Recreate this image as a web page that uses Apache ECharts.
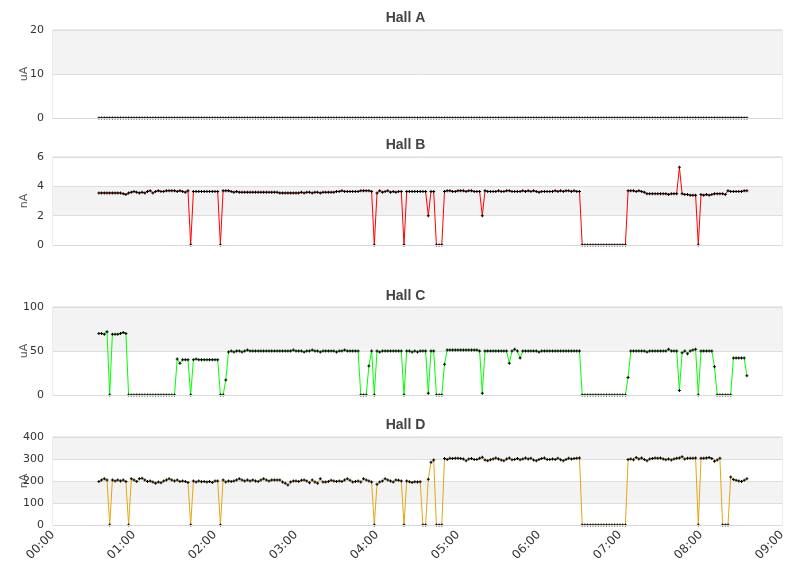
<!DOCTYPE html>
<html>
<head>
<meta charset="utf-8">
<title>Hall currents</title>
<script src="https://cdn.jsdelivr.net/npm/echarts@6/dist/echarts.min.js"></script>
<style>
  html, body { margin: 0; padding: 0; background: #fff; }
  #chart { width: 811px; height: 578px; }
</style>
</head>
<body>
<div id="chart"></div>
<script>
// sampling: first point 00:34, one point every 2 minutes
var startMinute = 34;
var stepMinute = 2;

// tick labels of the time axis (minutes from 00:00)
var hourTicks = ['00:00', '01:00', '02:00', '03:00', '04:00', '05:00', '06:00', '07:00', '08:00', '09:00'];

var hallNames = ['Hall A', 'Hall B', 'Hall C', 'Hall D'];
var hallUnits = ['uA', 'nA', 'uA', 'nA'];
var hallMax = [20, 6, 100, 400];
var hallStep = [10, 2, 50, 100];

// Hall A (uA)
var hallA = [
  0,0,0,0,0,0,0,0,0,0, 0,0,0,0,0,0,0,0,0,0,
  0,0,0,0,0,0,0,0,0,0, 0,0,0,0,0,0,0,0,0,0,
  0,0,0,0,0,0,0,0,0,0, 0,0,0,0,0,0,0,0,0,0,
  0,0,0,0,0,0,0,0,0,0, 0,0,0,0,0,0,0,0,0,0,
  0,0,0,0,0,0,0,0,0,0, 0,0,0,0,0,0,0,0,0,0,
  0,0,0,0,0,0,0,0,0,0, 0,0,0,0,0,0,0,0,0,0,
  0,0,0,0,0,0,0,0,0,0, 0,0,0,0,0,0,0,0,0,0,
  0,0,0,0,0,0,0,0,0,0, 0,0,0,0,0,0,0,0,0,0,
  0,0,0,0,0,0,0,0,0,0, 0,0,0,0,0,0,0,0,0,0,
  0,0,0,0,0,0,0,0,0,0, 0,0,0,0,0,0,0,0,0,0,
  0,0,0,0,0,0,0,0,0,0, 0,0,0,0,0,0,0,0,0,0,
  0,0,0,0,0,0,0,0,0,0, 0,0,0,0,0,0,0,0,0,0,
  0
];

// Hall B (nA)
var hallB = [
  3.55,3.55,3.55,3.55,3.55,3.55,3.55,3.55,3.55,3.5,
  3.45,3.55,3.6,3.65,3.6,3.55,3.6,3.55,3.65,3.7,
  3.55,3.65,3.7,3.65,3.65,3.7,3.7,3.7,3.7,3.65,
  3.7,3.65,3.6,3.7,0,3.65,3.65,3.65,3.65,3.65,
  3.65,3.65,3.65,3.65,3.65,0,3.7,3.7,3.7,3.65,
  3.6,3.65,3.6,3.6,3.6,3.6,3.6,3.6,3.6,3.6,
  3.6,3.6,3.6,3.6,3.6,3.6,3.6,3.55,3.55,3.55,
  3.55,3.55,3.55,3.55,3.55,3.6,3.55,3.6,3.6,3.55,
  3.6,3.6,3.55,3.6,3.6,3.6,3.6,3.6,3.65,3.65,
  3.7,3.65,3.65,3.65,3.65,3.65,3.65,3.7,3.7,3.7,
  3.7,3.65,0,3.55,3.7,3.6,3.65,3.7,3.6,3.65,
  3.6,3.65,3.65,0,3.65,3.65,3.65,3.65,3.65,3.65,
  3.65,3.65,2.0,3.65,3.65,0,0,0,3.65,3.7,
  3.7,3.65,3.65,3.7,3.7,3.7,3.65,3.7,3.7,3.65,
  3.65,3.65,2.0,3.7,3.65,3.65,3.65,3.65,3.7,3.65,
  3.65,3.7,3.7,3.65,3.65,3.65,3.65,3.7,3.65,3.7,
  3.65,3.7,3.65,3.6,3.65,3.65,3.65,3.65,3.65,3.7,
  3.65,3.7,3.65,3.7,3.7,3.65,3.7,3.65,3.65,0,
  0,0,0,0,0,0,0,0,0,0,
  0,0,0,0,0,0,3.7,3.7,3.7,3.65,
  3.7,3.65,3.6,3.5,3.5,3.5,3.5,3.5,3.5,3.5,
  3.5,3.45,3.5,3.5,3.5,5.3,3.5,3.45,3.45,3.4,
  3.4,3.4,0,3.45,3.4,3.45,3.4,3.45,3.5,3.5,
  3.5,3.5,3.45,3.7,3.65,3.65,3.65,3.65,3.65,3.7,
  3.7
];

// Hall C (uA)
var hallC = [
  70,70,69,72,0,69,69,69,70,71,
  70,0,0,0,0,0,0,0,0,0,
  0,0,0,0,0,0,0,0,0,41,
  36,40,40,40,0,40,41,40,40,40,
  40,40,40,40,40,0,0,17,49,50,
  49,50,50,49,50,51,50,50,50,50,
  50,50,50,50,50,50,50,50,50,50,
  50,50,51,50,50,50,49,50,50,51,
  50,50,49,50,50,50,50,50,49,50,
  50,51,50,50,50,50,50,0,0,0,
  33,50,0,50,49,50,50,50,50,50,
  50,50,50,0,50,50,49,50,49,50,
  50,50,2,50,50,0,0,0,35,51,
  51,51,51,51,51,51,51,51,51,51,
  51,50,2,50,50,50,50,50,50,50,
  50,50,36,50,52,50,42,50,50,50,
  50,50,50,49,50,50,50,50,50,50,
  50,50,50,50,50,50,50,50,50,0,
  0,0,0,0,0,0,0,0,0,0,
  0,0,0,0,0,0,20,50,50,50,
  50,50,50,49,50,50,50,50,50,50,
  50,52,50,50,50,5,48,50,47,50,
  51,52,0,50,50,50,50,50,32,0,
  0,0,0,0,0,42,42,42,42,42,
  22
];

// Hall D (nA)
var hallD = [
  198,205,210,205,0,205,200,205,200,205,
  198,0,210,205,198,210,212,205,198,200,
  195,190,195,192,200,205,210,205,200,205,
  198,200,198,193,0,200,195,200,197,198,
  195,198,193,200,200,0,205,195,200,198,
  200,205,210,205,200,205,200,205,200,198,
  205,210,205,200,205,205,205,205,195,190,
  182,195,200,200,198,203,205,200,192,205,
  195,190,210,195,195,198,203,200,198,200,
  198,205,210,203,195,198,200,195,210,205,
  200,195,0,185,195,200,210,205,200,195,
  205,203,200,0,200,197,193,197,195,197,
  0,0,208,285,295,0,0,0,302,298,
  303,302,303,303,302,300,292,300,302,298,
  298,303,308,295,292,297,300,305,300,295,
  292,300,305,297,298,302,297,300,305,300,
  303,295,292,298,302,305,298,298,300,298,
  303,297,292,298,303,300,302,303,305,0,
  0,0,0,0,0,0,0,0,0,0,
  0,0,0,0,0,0,298,300,297,307,
  300,305,298,292,300,302,305,303,305,300,
  297,300,295,300,303,305,310,300,303,303,
  303,305,0,303,303,305,307,302,290,295,
  303,0,0,0,218,207,203,200,198,203,
  210
];

var hallData = [hallA, hallB, hallC, hallD];
var lineColors = ['#000000', '#ff0000', '#00ff00', '#e6a514'];

var gridTops = [30, 157, 307, 437];
var titleTops = [11, 138, 289, 418];
var plus = 'path://M1,0H2V1H3V2H2V3H1V2H0V1H1Z';

function toPairs(values) {
  return values.map(function (v, i) {
    return [startMinute + i * stepMinute, v];
  });
}

var titles = [], grids = [], xAxes = [], yAxes = [], series = [];
for (var k = 0; k < 4; k++) {
  var last = (k === 3);
  titles.push({
    text: hallNames[k],
    left: 'center',
    top: titleTops[k],
    padding: 0,
    textStyle: { fontSize: 14, fontWeight: 'bold', color: '#444', fontFamily: 'Liberation Sans' }
  });
  grids.push({
    left: 53, right: 29, top: gridTops[k], height: 88,
    containLabel: false,
    outerBoundsMode: 'none',
    show: true, borderColor: '#d9d9d9', borderWidth: 1, backgroundColor: 'transparent'
  });
  xAxes.push({
    type: 'value',
    gridIndex: k,
    min: 0, max: 540, interval: 60,
    z: 5,
    axisLine: { show: true, onZero: false, lineStyle: { color: '#d9d9d9', width: 1 } },
    axisTick: { show: false },
    splitLine: { show: false },
    axisLabel: {
      show: last,
      rotate: 45,
      margin: 8,
      fontSize: 12,
      color: '#333',
      fontFamily: 'DejaVu Sans',
      formatter: function (v) { return hourTicks[Math.round(v / 60)]; }
    }
  });
  yAxes.push({
    type: 'value',
    gridIndex: k,
    min: 0, max: hallMax[k], interval: hallStep[k],
    name: hallUnits[k],
    nameLocation: 'middle',
    nameGap: 23,
    nameMoveOverlap: false,
    nameTextStyle: { color: '#555', fontSize: 11, fontFamily: 'DejaVu Sans' },
    axisLine: { show: false },
    axisTick: { show: false },
    axisLabel: { fontSize: 11, color: '#333', margin: 9, fontFamily: 'DejaVu Sans' },
    splitLine: { show: true, lineStyle: { color: '#dddddd' } },
    splitArea: { show: true, areaStyle: { color: ['#ffffff', '#f3f3f3'] } }
  });
  series.push({
    name: hallNames[k],
    type: 'line',
    xAxisIndex: k,
    yAxisIndex: k,
    data: toPairs(hallData[k]),
    symbol: plus,
    symbolSize: 3,
    showAllSymbol: true,
    lineStyle: { color: lineColors[k], width: 1 },
    itemStyle: { color: '#000' },
    emphasis: { disabled: true },
    z: 2
  });
}

var chart = echarts.init(document.getElementById('chart'));
chart.setOption({
  animation: false,
  backgroundColor: '#fff',
  title: titles,
  grid: grids,
  xAxis: xAxes,
  yAxis: yAxes,
  series: series
});
</script>
</body>
</html>
